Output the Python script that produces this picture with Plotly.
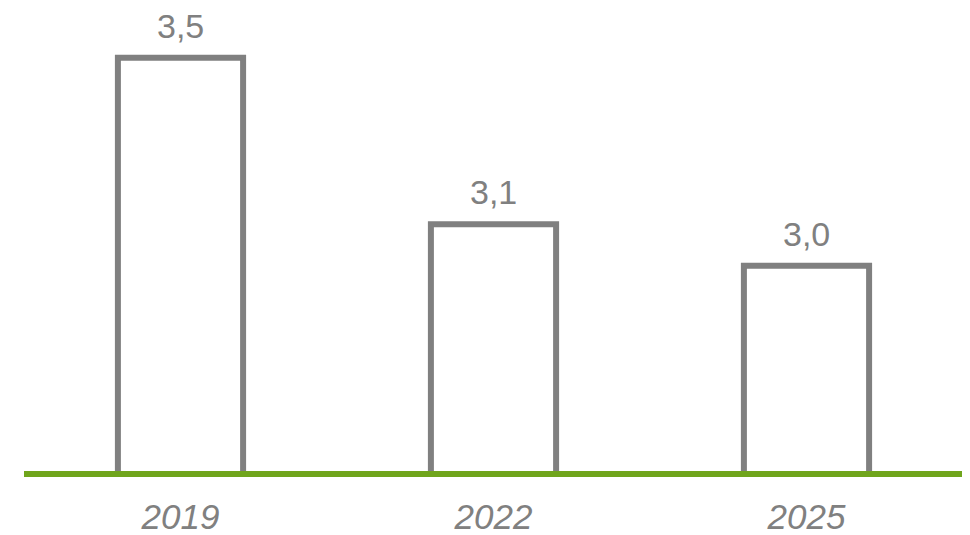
import plotly.graph_objects as go

years = ["2019", "2022", "2025"]
values = [3.5, 3.1, 3.0]
value_labels = [f"{v:.1f}".replace(".", ",") for v in values]

GRAY = "#808080"
GREEN = "#70A51C"
FONT = "Liberation Sans, Arial, sans-serif"

fig = go.Figure()
fig.add_trace(go.Bar(
    x=years, y=values,
    marker=dict(color="white", line=dict(color=GRAY, width=6)),
    width=0.4, hoverinfo="skip",
))

for i, (v, lab) in enumerate(zip(values, value_labels)):
    fig.add_annotation(x=i, y=v, text=lab, showarrow=False, yanchor="bottom",
                       yshift=12, borderpad=0,
                       font=dict(family=FONT, size=34, color=GRAY))

fig.add_shape(type="line", xref="paper", yref="paper", x0=0, x1=1, y0=0, y1=0,
              line=dict(color=GREEN, width=6), layer="above")

fig.update_layout(
    width=970, height=535,
    margin=dict(l=16, r=15, t=8, b=69, autoexpand=False),
    paper_bgcolor="white", plot_bgcolor="white",
    showlegend=False,
    xaxis=dict(type="category", range=[-0.5, len(years) - 0.5], automargin=False,
               showgrid=False, showline=False, zeroline=False, ticks="",
               tickfont=dict(family=FONT, size=35, color=GRAY, style="italic"),
               ticklabelstandoff=19),
    yaxis=dict(range=[2.5, 3.6], visible=False, showgrid=False, automargin=False),
)

fig.write_html("out.html")
